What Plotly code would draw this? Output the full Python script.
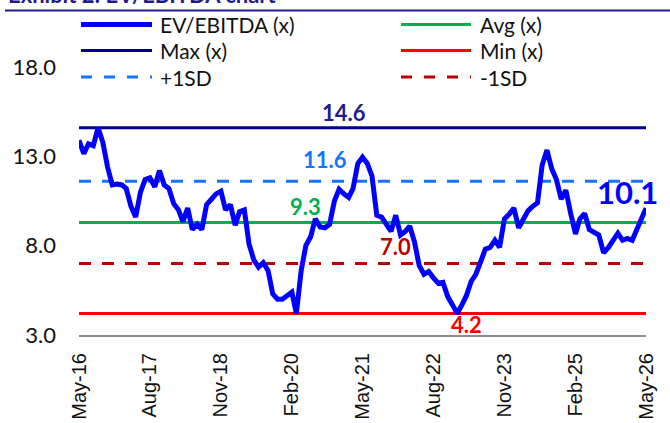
import pandas as pd
import plotly.graph_objects as go

# ---------------- data ----------------
start_month = "2016-05-01"
ev_ebitda = [13.9, 13.15, 13.7, 13.6, 14.6, 13.8, 12.4, 11.4, 11.45, 11.4,
             11.2, 10.2, 9.6, 11.0, 11.7, 11.8, 11.3, 12.2, 11.4, 11.2,
             10.35, 10.0, 9.35, 10.1, 8.9, 9.2, 8.9, 10.3, 10.6, 10.9,
             11.05, 10.0, 10.3, 9.15, 9.9, 10.0, 8.1, 7.2, 6.8, 7.05,
             6.6, 5.3, 5.0, 5.0, 5.2, 5.4, 4.2, 6.6, 8.0, 8.5,
             9.5, 9.05, 9.0, 9.2, 10.5, 11.15, 10.9, 10.7, 11.2, 12.6,
             12.95, 12.6, 11.9, 9.7, 9.6, 9.2, 8.8, 9.7, 8.6, 8.8,
             9.1, 8.2, 6.9, 6.4, 6.55, 6.2, 5.9, 5.95, 5.15, 4.7,
             4.2, 4.7, 5.2, 6.0, 6.4, 7.1, 7.8, 7.9, 8.3, 7.9,
             9.5, 9.75, 10.1, 9.0, 9.5, 9.95, 10.2, 10.4, 12.5, 13.35,
             12.3, 11.7, 10.6, 11.1, 9.8, 8.65, 9.5, 9.8, 8.9, 8.75,
             8.6, 7.6, 7.9, 8.3, 8.7, 8.3, 8.4, 8.3, 8.85, 9.5,
             10.1]
max_val = 14.6
avg_val = 9.3
min_val = 4.2
plus_sd = 11.6
minus_sd = 7.0
y_ticks = [3.0, 8.0, 13.0, 18.0]
tick_step_months = 15
title_text = "Exhibit 2: EV/EBITDA chart"
legend_labels = ["EV/EBITDA (x)", "Avg (x)", "Max (x)", "Min (x)", "+1SD", "-1SD"]

dates = pd.date_range(start_month, periods=len(ev_ebitda), freq="MS")
tick_dates = dates[::tick_step_months]

# ---------------- styles ----------------
C_EV = "#0000FF"
C_MAX = "#000090"
C_AVG = "#00B050"
C_MIN = "#FF0000"
C_PSD = "#1474FF"
C_MSD = "#C00000"
C_NAVY = "#1F1C8A"

W, H = 670, 423
L, R, T, B = 79, 646, 67, 335


def px2x(px):
    return (px - L) / (R - L)


def py2y(py):
    return (B - py) / (B - T)


fig = go.Figure()
ends = [dates[0], dates[-1]]
fig.add_trace(go.Scatter(x=ends, y=[max_val] * 2, mode="lines",
                         line=dict(color=C_MAX, width=3), name="Max (x)"))
fig.add_trace(go.Scatter(x=ends, y=[plus_sd] * 2, mode="lines",
                         line=dict(color=C_PSD, width=3, dash="12px,11px"), name="+1SD"))
fig.add_trace(go.Scatter(x=ends, y=[avg_val] * 2, mode="lines",
                         line=dict(color=C_AVG, width=3), name="Avg (x)"))
fig.add_trace(go.Scatter(x=ends, y=[minus_sd] * 2, mode="lines",
                         line=dict(color=C_MSD, width=3, dash="12px,11px"), name="-1SD"))
fig.add_trace(go.Scatter(x=ends, y=[min_val] * 2, mode="lines",
                         line=dict(color=C_MIN, width=3), name="Min (x)"))
fig.add_trace(go.Scatter(x=dates, y=ev_ebitda, mode="lines",
                         line=dict(color=C_EV, width=5), name="EV/EBITDA (x)"))

# value labels
lab_font = "Lato, 'Open Sans', sans-serif"
value_labels = [
    (dates[56], max_val, f"{max_val:.1f}", C_NAVY, 22, 15),
    (dates[52], plus_sd, f"{plus_sd:.1f}", C_PSD, 22, 22),
    (dates[48], avg_val, f"{avg_val:.1f}", C_AVG, 22, 16),
    (dates[67], minus_sd, f"{minus_sd:.1f}", C_MSD, 22, 17),
    (dates[82], min_val, f"{min_val:.1f}", C_MIN, 22, -11),
    (dates[116], ev_ebitda[-1], f"{ev_ebitda[-1]:.1f}", C_EV, 31, 16),
]
for x, y, txt, col, sz, ys in value_labels:
    fig.add_annotation(x=x, y=y, text=f"<b>{txt}</b>", showarrow=False,
                       xanchor="center", yanchor="middle", yshift=ys,
                       font=dict(family=lab_font, size=sz, color=col))

# manual legend (long line glyphs like the original)
legend_items = [
    (legend_labels[0], C_EV, 5, "solid", 0, 24.5),
    (legend_labels[1], C_AVG, 3, "solid", 1, 24.5),
    (legend_labels[2], C_MAX, 3, "solid", 0, 50.5),
    (legend_labels[3], C_MIN, 3, "solid", 1, 50.5),
    (legend_labels[4], C_PSD, 3, "11px,12px", 0, 77),
    (legend_labels[5], C_MSD, 3, "11px,12px", 1, 77),
]
col_x = [(81, 152, 158), (401, 471, 478)]
shapes = []
for txt, col, w, dash, c, py in legend_items:
    x0, x1, tx = col_x[c]
    shapes.append(dict(type="line", xref="paper", yref="paper",
                       x0=px2x(x0), x1=px2x(x1), y0=py2y(py), y1=py2y(py),
                       line=dict(color=col, width=w, dash=dash)))
    fig.add_annotation(xref="paper", yref="paper", x=px2x(tx), y=py2y(py),
                       text=txt, showarrow=False, xanchor="left", yanchor="middle",
                       font=dict(family=lab_font, size=21, color="#111111"))

# title rule and (clipped, as in the original) title
shapes.append(dict(type="line", xref="paper", yref="paper",
                   x0=px2x(5), x1=px2x(672), y0=py2y(10.5), y1=py2y(10.5),
                   line=dict(color=C_NAVY, width=2)))
fig.add_annotation(xref="paper", yref="paper", x=px2x(6), y=py2y(10),
                   text=f"<b>{title_text}</b>", showarrow=False,
                   xanchor="left", yanchor="bottom",
                   font=dict(family="Lato, sans-serif", size=22, color=C_NAVY))

fig.update_layout(
    width=W, height=H,
    margin=dict(l=L, r=W - R, t=T, b=H - B, pad=0, autoexpand=False),
    paper_bgcolor="white", plot_bgcolor="white",
    showlegend=False, shapes=shapes, hovermode=False,
    xaxis=dict(range=[dates[0], dates[-1]], tickvals=list(tick_dates),
               tickformat="%b-%y", tickangle=-90, showgrid=False, zeroline=False,
               showline=True, linecolor="#8C8C8C", linewidth=2, ticks="",
               automargin=False, ticklabelstandoff=8,
               tickfont=dict(family="'Liberation Sans', Arial, sans-serif", size=20, color="#111111")),
    yaxis=dict(range=[3, 18], tickvals=y_ticks, tickformat=".1f",
               showgrid=False, zeroline=False, showline=False, ticks="",
               automargin=False, ticklabelstandoff=22,
               tickfont=dict(family=lab_font, size=22, color="#111111")),
)

fig.write_html("out.html", config={"displayModeBar": False},
               post_script="document.body.style.margin='0';document.body.style.overflow='hidden';")
